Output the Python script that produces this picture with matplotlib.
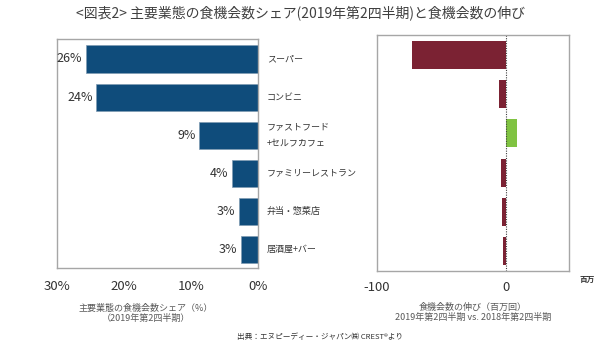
import matplotlib
matplotlib.use("Agg")
import matplotlib.pyplot as plt
import matplotlib.transforms as mtransforms

plt.rcParams['font.family'] = ['Noto Sans CJK JP', 'DejaVu Sans']

categories = ["スーパー", "コンビニ", "ファストフード\n+セルフカフェ", "ファミリーレストラン", "弁当・惣菜店", "居酒屋+バー"]
share_pct = [25.7, 24.2, 8.8, 3.9, 2.9, 2.6]
share_labels = ["26%", "24%", "9%", "4%", "3%", "3%"]
growth_mil = [-72.4, -5.0, 8.8, -3.6, -3.1, -2.3]
left_ticks = [30, 20, 10, 0]
left_ticklabels = ["30%", "20%", "10%", "0%"]
right_ticks = [-100, 0]
right_ticklabels = ["-100", "0"]

blue = "#0f4c7b"
maroon = "#7b2233"
green = "#80c342"
spine_c = "#a6a6a6"

fig = plt.figure(figsize=(6.0, 3.44), dpi=100)

fig.text(0.5, 1 - 13/344, "<図表2> 主要業態の食機会数シェア(2019年第2四半期)と食機会数の伸び",
         ha="center", va="center", fontsize=10, color="#404040")

# Left axes
axL = fig.add_axes([57/600, 1 - 268/344, (258 - 57)/600, (268 - 39)/344])
y = list(range(len(categories)))
axL.barh(y, share_pct, height=0.71, color=blue, edgecolor="#7f9bb3", linewidth=0.5)
axL.set_xlim(30, 0)
axL.set_ylim(5.49, -0.525)
axL.set_xticks(left_ticks)
axL.set_xticklabels(left_ticklabels, fontsize=9.5, color="#333333")
axL.tick_params(axis="x", length=0, pad=9)
axL.set_yticks([])
for s in axL.spines.values():
    s.set_color(spine_c)
    s.set_linewidth(1.0)
for yi, v, lab in zip(y, share_pct, share_labels):
    axL.text(v + 0.5, yi, lab, ha="right", va="center", fontsize=9, color="#333333")
trans = mtransforms.blended_transform_factory(fig.transFigure, axL.transData)
for yi, c in zip(y, categories):
    axL.text(267/600, yi, c, transform=trans, ha="left", va="center",
             fontsize=6.5, color="#333333", linespacing=2.0)

# Right axes
axR = fig.add_axes([376.7/600, 1 - 271/344, (569.3 - 376.7)/600, (271 - 35)/344])
colors = [green if v > 0 else maroon for v in growth_mil]
axR.barh(y, growth_mil, height=0.71, color=colors)
axR.set_xlim(-100, 49.5)
axR.set_ylim(5.5, -0.5)
axR.axvline(0, color="#404040", linestyle=(0, (1, 1.2)), linewidth=0.8)
axR.set_xticks(right_ticks)
axR.set_xticklabels(right_ticklabels, fontsize=9.5, color="#333333")
axR.tick_params(axis="x", length=0, pad=7)
axR.set_yticks([])
for s in axR.spines.values():
    s.set_color(spine_c)
    s.set_linewidth(1.0)

fig.text(587/600, 1 - 279/344, "百万", ha="center", va="center", fontsize=5.5,
         fontweight="bold", color="#333333")

fig.text(146/600, 1 - 313.5/344, "主要業態の食機会数シェア（%）\n（2019年第2四半期）",
         ha="center", va="center", fontsize=6.5, color="#595959", linespacing=1.2)
fig.text(473/600, 1 - 312.5/344, "食機会数の伸び（百万回）\n2019年第2四半期 vs. 2018年第2四半期",
         ha="center", va="center", fontsize=6.5, color="#595959", linespacing=1.2)
fig.text(320/600, 1 - 336.5/344, "出典：エヌピーディー・ジャパン㈱ CREST®より",
         ha="center", va="center", fontsize=5.5, color="#333333")

fig.savefig("out.png", dpi=100)
